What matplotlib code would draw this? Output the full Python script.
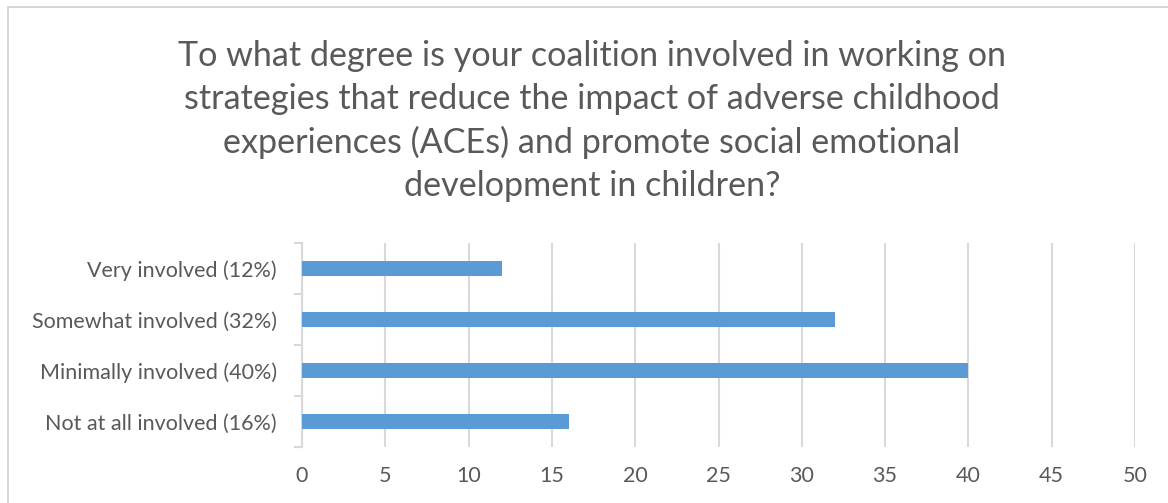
import matplotlib
matplotlib.use("Agg")
import matplotlib.pyplot as plt
from matplotlib.patches import Rectangle

categories = ["Very involved (12%)", "Somewhat involved (32%)",
              "Minimally involved (40%)", "Not at all involved (16%)"]
counts = [12, 32, 40, 16]
x_ticks = [0, 5, 10, 15, 20, 25, 30, 35, 40, 45, 50]

title = ("To what degree is your coalition involved in working on\n"
         "strategies that reduce the impact of adverse childhood\n"
         "experiences (ACEs) and promote social emotional\n"
         "development in children?")

W, H = 1168, 503
plt.rcParams['font.family'] = ['Lato', 'DejaVu Sans']
text_color = "#595959"
grid_color = "#d9d9d9"
bar_color = "#5b9bd5"

fig = plt.figure(figsize=(W / 100, H / 100), dpi=100)
fig.patch.set_facecolor("white")

# chart frame
fig.patches.append(Rectangle((8 / W, -0.1), 1.2, (H - 7) / H + 0.1,
                             transform=fig.transFigure, fill=False,
                             edgecolor="#d0d0d0", linewidth=1.2))

ax = fig.add_axes([302 / W, 1 - 447 / H, (1135 - 302) / W, (447 - 243) / H])
ypos = list(range(len(categories)))
ax.barh(ypos, counts, height=0.3, color=bar_color, zorder=3)
ax.set_ylim(len(categories) - 0.5, -0.5)
ax.set_xlim(0, 50)
ax.set_xticks(x_ticks)
ax.set_xticklabels([str(v) for v in x_ticks], fontsize=15.5, color=text_color)
ax.set_yticks(ypos)
ax.set_yticklabels(categories, fontsize=15.5, color=text_color)

ax.xaxis.grid(True, color=grid_color, linewidth=1.5, zorder=0)
ax.tick_params(axis="x", length=0, pad=14)
ax.tick_params(axis="y", length=0, pad=18)
for s in ["top", "right", "bottom"]:
    ax.spines[s].set_visible(False)
ax.spines["left"].set_color(grid_color)
ax.spines["left"].set_linewidth(1.5)

# small category separators on the value axis
for b in [-0.5, 0.5, 1.5, 2.5, 3.5]:
    ax.plot([-0.4, 0], [b, b], color=grid_color, linewidth=1.5,
            clip_on=False, zorder=2)

fig.text(592 / W, 1 - 121 / H, title, ha="center", va="center",
         fontsize=24.6, color=text_color, linespacing=1.42)

fig.savefig("out.png", dpi=100, facecolor="white")
